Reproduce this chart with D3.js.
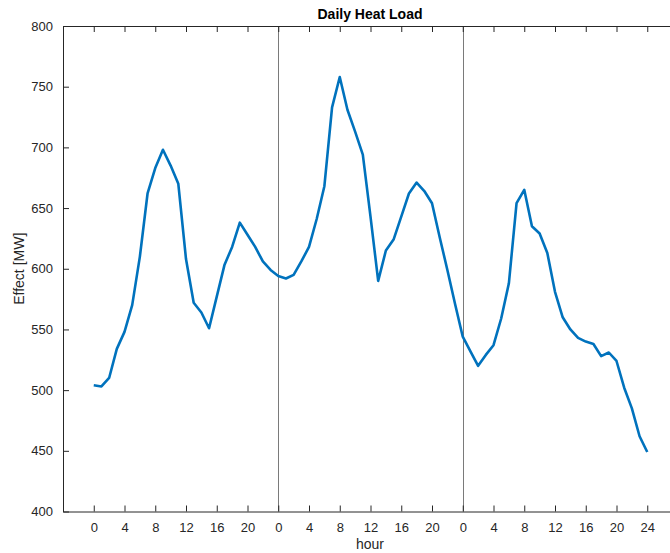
<!DOCTYPE html>
<html>
<head>
<meta charset="utf-8">
<script src="https://cdn.jsdelivr.net/npm/d3@7"></script>
<style>
  body { margin: 0; background: #fff; }
  svg { display: block; font-family: "Liberation Sans", Arial, Helvetica, sans-serif; }
</style>
</head>
<body>
<div id="chart"></div>
<script>
// hourly heat load, three consecutive days (hours 0..72)
var day1 = [504, 503, 510, 534, 548, 570, 610, 662, 683, 698, 685, 670,
            608, 572, 564, 551, 577, 603, 618, 638, 628, 618, 606, 599];
var day2 = [594, 592, 595, 606, 618, 641, 668, 733, 758, 731, 713, 694,
            643, 590, 615, 624, 643, 662, 671, 664, 654, 626, 599, 571];
var day3 = [544, 532, 520, 529, 537, 559, 588, 654, 665, 635, 629, 613,
            581, 560, 550, 543, 540, 538, 528, 531, 524, 502, 485, 462, 449];
var dayBreaks = [24, 48];
var xTicks = d3.range(0, 73, 4);
var yTicks = [400, 450, 500, 550, 600, 650, 700, 750, 800];

var load = day1.concat(day2, day3);

var width = 670, height = 553;
var margin = {left: 63, top: 26, bottom: 41.5};

var svg = d3.select("#chart").append("svg")
    .attr("width", width)
    .attr("height", height);

var x = d3.scaleLinear().domain([-4, 76]).range([margin.left, 678]);
var y = d3.scaleLinear().domain([400, 800]).range([height - margin.bottom, margin.top]);

var axisColor = "#262626";

// day separators
svg.selectAll("line.sep").data(dayBreaks).enter().append("line")
    .attr("class", "sep")
    .attr("x1", function(d){ return Math.round(x(d)) + 0.5; })
    .attr("x2", function(d){ return Math.round(x(d)) + 0.5; })
    .attr("y1", y(800))
    .attr("y2", y(400))
    .attr("stroke", "#7a7a7a")
    .attr("stroke-width", 1);

// bottom axis
var xAxis = d3.axisBottom(x)
    .tickValues(xTicks)
    .tickSizeInner(-6)
    .tickSizeOuter(0)
    .tickPadding(11)
    .tickFormat(function(d){ return d == 72 ? 24 : d % 24; });

var gx = svg.append("g")
    .attr("transform", "translate(0," + y(400) + ")")
    .call(xAxis);

// top axis (box)
var gxt = svg.append("g")
    .attr("transform", "translate(0," + y(800) + ")")
    .call(d3.axisTop(x).tickValues(xTicks).tickSizeInner(-6).tickSizeOuter(0).tickFormat(""));

// left axis
var gy = svg.append("g")
    .attr("transform", "translate(" + x(-4) + ",0)")
    .call(d3.axisLeft(y).tickValues(yTicks).tickSizeInner(-6).tickSizeOuter(0).tickPadding(10));

[gx, gxt, gy].forEach(function(g) {
    g.select(".domain").attr("stroke", axisColor).attr("stroke-width", 1);
    g.selectAll(".tick line").attr("stroke", axisColor);
    g.selectAll(".tick text")
        .attr("fill", axisColor)
        .attr("font-size", "13px");
});

// the series
var line = d3.line()
    .x(function(d, i){ return x(i); })
    .y(function(d){ return y(d); });

svg.append("path")
    .datum(load)
    .attr("d", line)
    .attr("fill", "none")
    .attr("stroke", "#0072BD")
    .attr("stroke-width", 2.6)
    .attr("stroke-linejoin", "round");

// labels
svg.append("text")
    .attr("x", 370)
    .attr("y", 19)
    .attr("text-anchor", "middle")
    .attr("font-size", "14px")
    .attr("font-weight", "bold")
    .attr("fill", "#000")
    .text("Daily Heat Load");

svg.append("text")
    .attr("x", 370)
    .attr("y", 549)
    .attr("text-anchor", "middle")
    .attr("font-size", "14px")
    .attr("fill", axisColor)
    .text("hour");

svg.append("text")
    .attr("transform", "translate(24," + y(600) + ") rotate(-90)")
    .attr("text-anchor", "middle")
    .attr("font-size", "14px")
    .attr("fill", axisColor)
    .text("Effect [MW]");
</script>
</body>
</html>
